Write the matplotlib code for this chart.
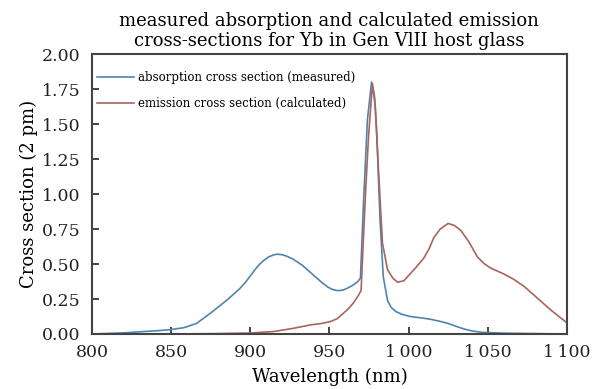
import numpy as np
import matplotlib
matplotlib.use("Agg")
import matplotlib.pyplot as plt
from matplotlib.ticker import FuncFormatter

plt.rcParams['font.family'] = ['DejaVu Serif']
plt.rcParams['mathtext.fontset'] = 'dejavuserif'

# absorption cross section (measured)
abs_wl = [800, 820, 843, 850, 858, 866, 875, 885, 893, 897, 900, 903, 906, 909, 912,
          915, 917, 920, 923, 927, 933, 940, 945, 949, 952, 955, 958, 961, 965, 968,
          969.6, 971.5, 974, 976.6, 978.5, 980, 982, 984, 986.7, 989, 992, 996, 1001,
          1008, 1014, 1020, 1025, 1030, 1035, 1040, 1046, 1060, 1080, 1100]
abs_val = [0.0, 0.008, 0.025, 0.032, 0.045, 0.075, 0.15, 0.24, 0.32, 0.37, 0.415, 0.46,
           0.5, 0.53, 0.553, 0.566, 0.57, 0.567, 0.556, 0.535, 0.49, 0.42, 0.37, 0.335,
           0.318, 0.31, 0.312, 0.325, 0.35, 0.375, 0.40, 0.93, 1.53, 1.80, 1.70, 1.41,
           0.81, 0.41, 0.24, 0.19, 0.16, 0.14, 0.125, 0.115, 0.105, 0.09, 0.075, 0.055,
           0.036, 0.022, 0.012, 0.006, 0.003, 0.0]

# emission cross section (calculated)
em_wl = [800, 850, 880, 900, 915, 927, 938, 945, 951, 955, 959, 962, 965, 968, 970,
         971.5, 973, 974.7, 977.2, 979, 981, 983.5, 986.7, 990, 993, 997, 1001, 1005,
         1009.5, 1013, 1016, 1020, 1025, 1029, 1033, 1038, 1043.5, 1048, 1052, 1060,
         1066.5, 1073, 1079, 1085, 1090, 1095, 1100]
em_val = [0.0, 0.0, 0.003, 0.007, 0.018, 0.04, 0.065, 0.075, 0.09, 0.11, 0.15, 0.18,
          0.22, 0.27, 0.31, 0.69, 1.05, 1.41, 1.79, 1.62, 1.17, 0.65, 0.46, 0.40,
          0.37, 0.38, 0.43, 0.48, 0.54, 0.61, 0.69, 0.75, 0.79, 0.775, 0.74, 0.66,
          0.55, 0.50, 0.47, 0.43, 0.39, 0.34, 0.28, 0.22, 0.17, 0.125, 0.08]

fig = plt.figure(figsize=(6.05, 3.89), dpi=100)
ax = fig.add_axes([0.152, 0.1414, 0.785, 0.7196])

ax.plot(abs_wl, abs_val, color='#4f84ad', lw=1.2, label='absorption cross section (measured)')
ax.plot(em_wl, em_val, color='#a8655b', lw=1.2, label='emission cross section (calculated)')

ax.set_xlim(800, 1100)
ax.set_ylim(0, 2.0)
ax.set_xticks([800, 850, 900, 950, 1000, 1050, 1100])
ax.set_yticks(np.arange(0, 2.01, 0.25))
ax.xaxis.set_major_formatter(FuncFormatter(
    lambda v, p: f"{int(v):,}".replace(",", "\u2009")))
ax.yaxis.set_major_formatter(FuncFormatter(lambda v, p: f"{v:.2f}"))

ax.tick_params(direction='in', length=5, width=1.2, labelsize=12.5, colors='#222222')
ax.tick_params(axis='x', pad=7)
ax.tick_params(axis='y', pad=8)
for s in ['top', 'right', 'left', 'bottom']:
    ax.spines[s].set_color('#444444')
    ax.spines[s].set_linewidth(1.5)

ax.set_xlabel('Wavelength (nm)', fontsize=13, labelpad=5)
ax.set_ylabel('Cross section (2 pm)', fontsize=13, labelpad=3)
ax.set_title('measured absorption and calculated emission\ncross-sections for Yb in Gen VlII host glass',
             fontsize=13, pad=6, linespacing=1.15)

ax.legend(loc='upper left', bbox_to_anchor=(-0.006, 0.968), frameon=False,
          fontsize=8.5, handlelength=3.1, handletextpad=0.35, borderaxespad=0.3,
          labelspacing=1.1)

fig.savefig('out.png', dpi=100)
